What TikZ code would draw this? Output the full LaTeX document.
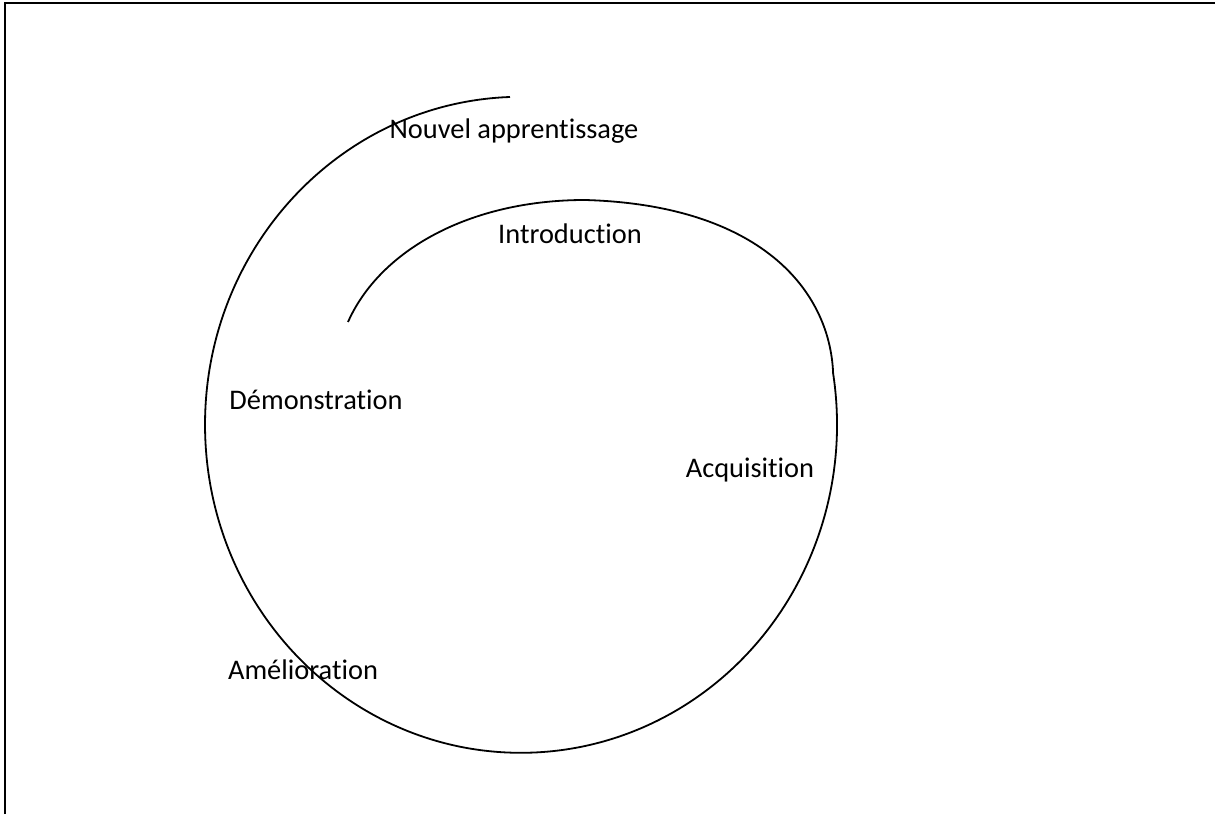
\documentclass[tikz,border=0pt]{standalone}
\usepackage{fontspec}
\setmainfont[Ligatures={NoCommon}]{Carlito}
\usepackage{tikz}

\tikzset{
	stage/.style={anchor=base, inner sep=0pt, font=\fontsize{14.2}{16}\selectfont},
	spiral/.style={line width=0.9pt},
}

\begin{document}
\begin{tikzpicture}[x=0.5pt, y=0.5pt]
			\def\W{1215};
			\def\H{814};
			\useasboundingbox (0,0) rectangle (\W,\H);

			\begin{scope}[line width=1pt]
				\draw (5,0) -- (5,811) -- (\W,811);
			\end{scope}

			\begin{scope}[spiral]
				\draw (510,717) arc [start angle=92, end angle=369, x radius=316, y radius=328]
					coordinate (join)
					.. controls (830,524) and (760,609) .. (585,614)
					.. controls (470,614) and (380,564) .. (348,492) coordinate (tip);
			\end{scope}

			\begin{scope}
				\node[stage] (nouvel) at (514,675) {Nouvel apprentissage};
				\node[stage] (intro) at (570,570) {Introduction};
				\node[stage] (demo) at (316,404) {Démonstration};
				\node[stage] (acq) at (750,336) {Acquisition};
				\node[stage] (amel) at (303,134) {Amélioration};
			\end{scope}
		\end{tikzpicture}
\end{document}
